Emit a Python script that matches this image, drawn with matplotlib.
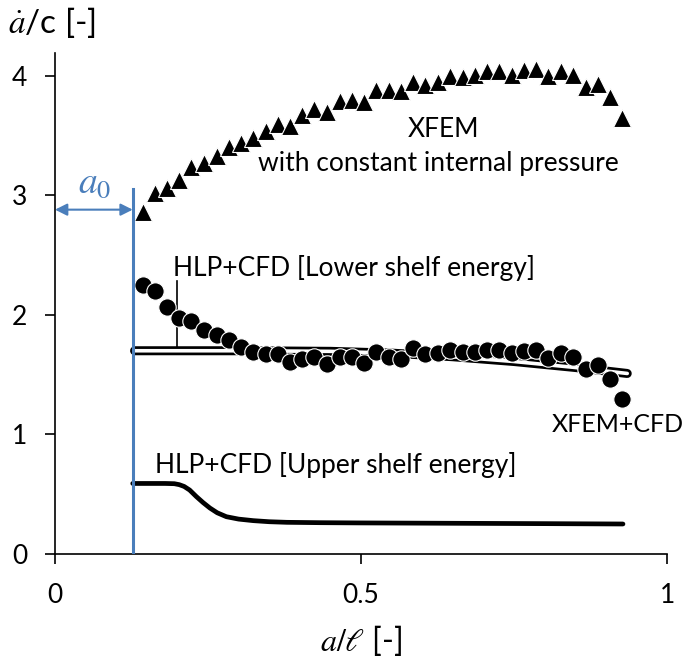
import matplotlib
matplotlib.use("Agg")
import matplotlib.pyplot as plt
import numpy as np

plt.rcParams['font.family'] = ['Lato', 'DejaVu Sans']
plt.rcParams['mathtext.fontset'] = 'stix'

# XFEM (constant internal pressure) and XFEM+CFD share the same a/l grid
x_pts = [0.143, 0.163, 0.183, 0.203, 0.223, 0.244, 0.264, 0.284, 0.304, 0.324,
         0.344, 0.364, 0.384, 0.404, 0.424, 0.444, 0.465, 0.485, 0.505, 0.525,
         0.545, 0.565, 0.585, 0.605, 0.625, 0.645, 0.666, 0.686, 0.706, 0.726,
         0.746, 0.766, 0.786, 0.806, 0.826, 0.846, 0.867, 0.887, 0.907, 0.927]
xfem = [2.86, 3.02, 3.06, 3.13, 3.24, 3.27, 3.33, 3.40, 3.44, 3.48,
        3.54, 3.60, 3.58, 3.67, 3.72, 3.70, 3.79, 3.80, 3.78, 3.88,
        3.88, 3.87, 3.95, 3.92, 3.95, 4.00, 3.99, 4.01, 4.04, 4.04,
        4.01, 4.05, 4.06, 4.00, 4.04, 4.01, 3.91, 3.93, 3.82, 3.65]
xfem_cfd = [2.25, 2.20, 2.07, 1.97, 1.95, 1.87, 1.83, 1.79, 1.73, 1.69,
            1.67, 1.67, 1.61, 1.63, 1.65, 1.59, 1.65, 1.65, 1.60, 1.69,
            1.65, 1.63, 1.72, 1.67, 1.68, 1.71, 1.69, 1.69, 1.71, 1.71,
            1.68, 1.70, 1.71, 1.64, 1.68, 1.65, 1.55, 1.58, 1.46, 1.30]

# HLP+CFD lower shelf energy
x_low = [0.13, 0.30, 0.45, 0.55, 0.65, 0.75, 0.85, 0.935]
y_low = [1.70, 1.70, 1.695, 1.68, 1.65, 1.61, 1.56, 1.51]

# HLP+CFD upper shelf energy
x_up = [0.127, 0.15, 0.18, 0.195, 0.203, 0.211, 0.22, 0.231, 0.242, 0.253,
        0.265, 0.28, 0.30, 0.324, 0.35, 0.379, 0.433, 0.50, 0.60, 0.70,
        0.80, 0.928]
y_up = [0.59, 0.59, 0.59, 0.588, 0.58, 0.565, 0.535, 0.48, 0.43, 0.385,
        0.345, 0.312, 0.292, 0.279, 0.27, 0.265, 0.262, 0.26, 0.258, 0.256,
        0.254, 0.251]

a0 = 0.127
blue = '#4a7ebb'

fig = plt.figure(figsize=(6.91, 6.67), dpi=100)
ax = fig.add_axes([0.0796, 0.1694, 0.8857, 0.7511])

# hollow band: thick black line with white core
ax.plot(x_low, y_low, color='black', lw=6.5, solid_capstyle='round', zorder=2)
ax.plot(x_low, y_low, color='white', lw=2.6, solid_capstyle='round', zorder=2.1)

ax.plot(x_up, y_up, color='black', lw=3.4, solid_capstyle='round', zorder=2)

ax.plot(x_pts, xfem, linestyle='none', marker='^', ms=13, color='black',
        mec='white', mew=0.8, zorder=3)
ax.plot(x_pts, xfem_cfd, linestyle='none', marker='o', ms=12.5, color='black',
        mec='white', mew=0.8, zorder=3)

# initial crack length a0
ax.plot([a0, a0], [0, 3.05], color=blue, lw=2.2, zorder=4)
ax.annotate('', xy=(0.0, 2.88), xytext=(a0, 2.88),
            arrowprops=dict(arrowstyle='<|-|>', color=blue, lw=1.5,
                            mutation_scale=18, shrinkA=0, shrinkB=0))
ax.text(0.065, 3.11, r'$a_0$', color=blue, fontsize=27, ha='center', va='center')

# leader line for lower shelf label
ax.plot([0.2, 0.2], [1.72, 2.28], color='black', lw=1.2, zorder=1.5)

fs = 19
ax.text(0.634, 3.55, 'XFEM', fontsize=fs, ha='center', va='center')
ax.text(0.626, 3.27, 'with constant internal pressure', fontsize=fs,
        ha='center', va='center')
ax.text(0.193, 2.39, 'HLP+CFD [Lower shelf energy]', fontsize=fs,
        ha='left', va='center')
ax.text(1.027, 1.08, 'XFEM+CFD', fontsize=18, ha='right', va='center',
        clip_on=False)
ax.text(0.163, 0.745, 'HLP+CFD [Upper shelf energy]', fontsize=fs,
        ha='left', va='center')

ax.set_xlim(0, 1)
ax.set_ylim(0, 4.19)
ax.set_xticks([0, 0.5, 1])
ax.set_xticklabels(['0', '0.5', '1'])
ax.set_yticks([0, 1, 2, 3, 4])
ax.tick_params(axis='both', direction='out', length=7, width=1.2,
               labelsize=fs, colors='black')
ax.tick_params(axis='x', pad=14)
ax.tick_params(axis='y', pad=13)
for side in ['top', 'right']:
    ax.spines[side].set_visible(False)
for side in ['left', 'bottom']:
    ax.spines[side].set_linewidth(1.2)

fig.text(0.523, 0.04, r'$a/\ell$ [-]', fontsize=23, ha='center', va='center')
fig.text(0.012, 0.967, r'$\dot{a}$/c [-]', fontsize=24, ha='left', va='center')

fig.savefig('out.png', dpi=100)
